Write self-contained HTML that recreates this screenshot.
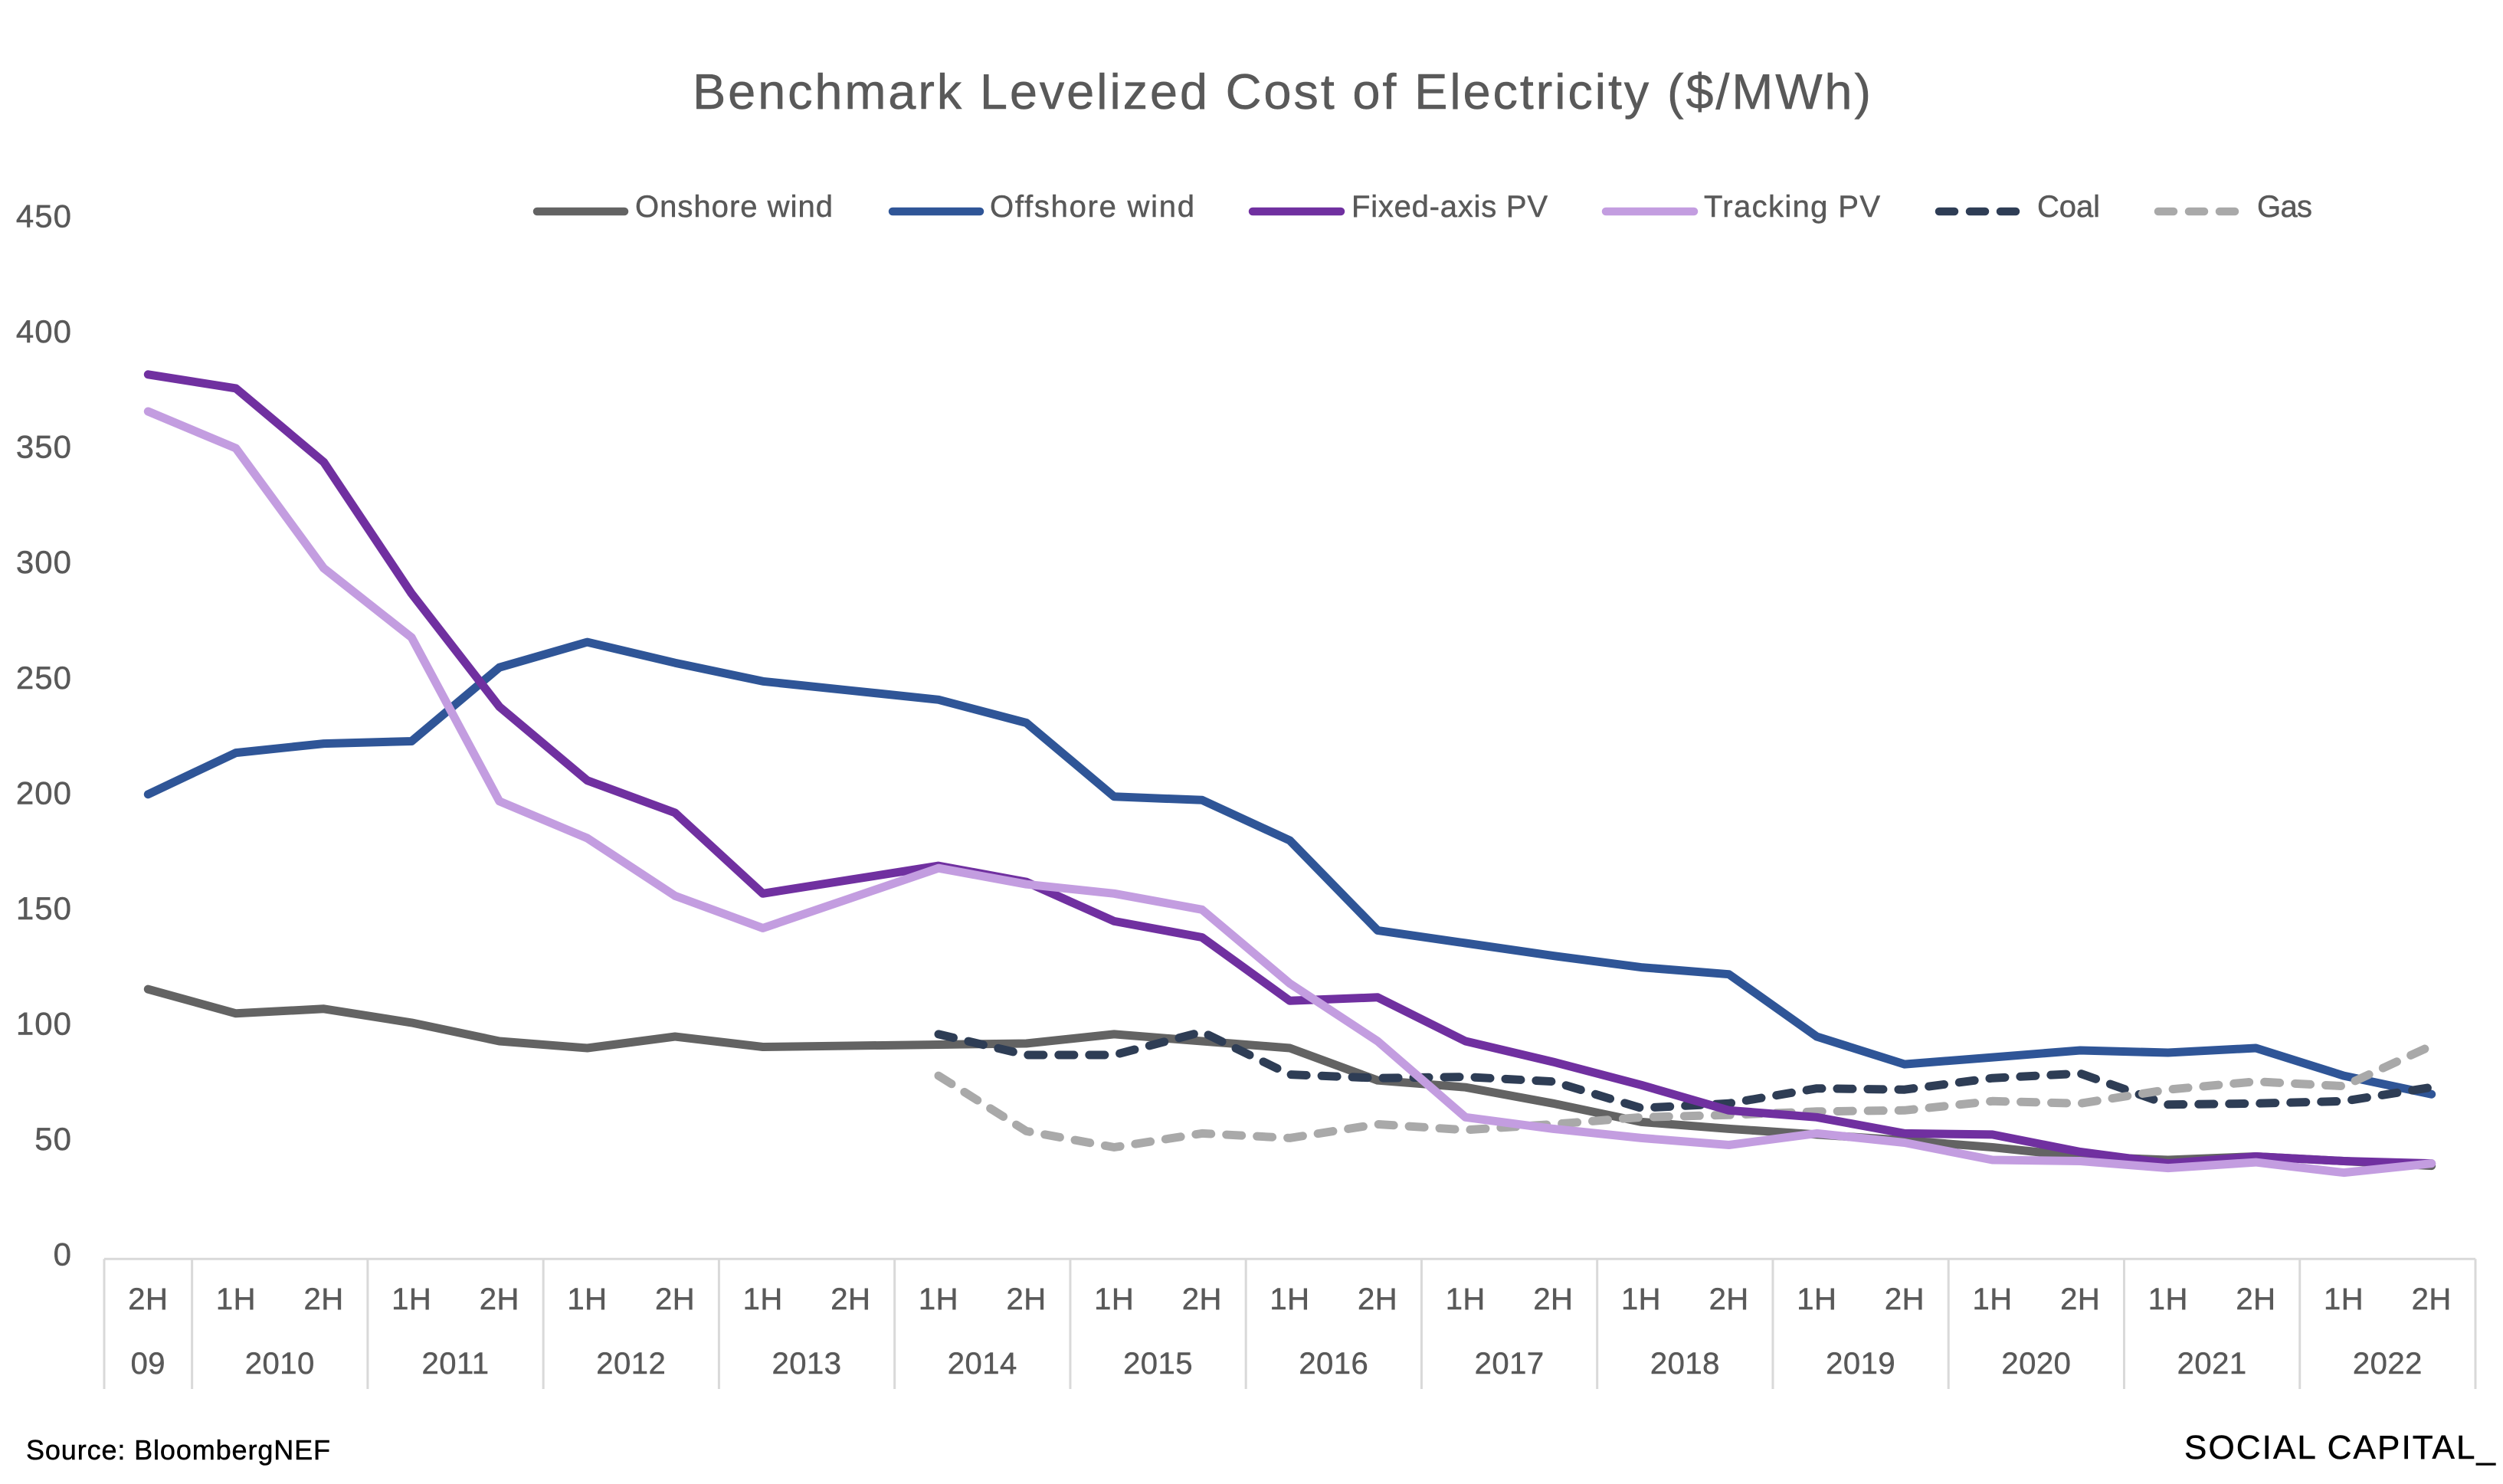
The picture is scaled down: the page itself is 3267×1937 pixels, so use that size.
<!DOCTYPE html>
<html lang="en">
<head>
<meta charset="utf-8">
<title>Benchmark Levelized Cost of Electricity</title>
<style>
  html, body { margin: 0; padding: 0; background: #fff; }
  svg { display: block; }
  text { font-family: "Liberation Sans", sans-serif; fill: #595959; stroke: #595959; stroke-width: 0.5px; }
  text.ink { fill: #000; stroke: #000; }
</style>
</head>
<body>
<svg id="chart" xmlns="http://www.w3.org/2000/svg" width="3267" height="1937" viewBox="0 0 3267 1937">
  <rect x="0" y="0" width="3267" height="1937" fill="#ffffff"/>
  <text x="904" y="142" font-size="65" textLength="1538" lengthAdjust="spacing">Benchmark Levelized Cost of Electricity ($/MWh)</text>

  <g>
    <g>
      <line x1="701" y1="276" x2="815" y2="276" stroke="#636363" stroke-width="10.5" stroke-linecap="round"/>
      <text x="829" y="283" font-size="40" textLength="258" lengthAdjust="spacing">Onshore wind</text>
    </g>
    <g>
      <line x1="1165" y1="276" x2="1279" y2="276" stroke="#2f5597" stroke-width="10.5" stroke-linecap="round"/>
      <text x="1292" y="283" font-size="40" textLength="267" lengthAdjust="spacing">Offshore wind</text>
    </g>
    <g>
      <line x1="1635" y1="276" x2="1750" y2="276" stroke="#7030a0" stroke-width="10.5" stroke-linecap="round"/>
      <text x="1764" y="283" font-size="40" textLength="256" lengthAdjust="spacing">Fixed-axis PV</text>
    </g>
    <g>
      <line x1="2096" y1="276" x2="2211" y2="276" stroke="#c39de0" stroke-width="10.5" stroke-linecap="round"/>
      <text x="2224" y="283" font-size="40" textLength="230" lengthAdjust="spacing">Tracking PV</text>
    </g>
    <g>
      <line x1="2531" y1="276" x2="2631" y2="276" stroke="#2e3d55" stroke-width="10.5" stroke-linecap="round" stroke-dasharray="20 20"/>
      <text x="2659" y="283" font-size="40" textLength="82" lengthAdjust="spacing">Coal</text>
    </g>
    <g>
      <line x1="2817" y1="276" x2="2917" y2="276" stroke="#a9a9a9" stroke-width="10.5" stroke-linecap="round" stroke-dasharray="20 20"/>
      <text x="2946" y="283" font-size="40" textLength="72" lengthAdjust="spacing">Gas</text>
    </g>
  </g>

  <g id="y-axis"></g>
  <g id="x-axis"></g>
  <g id="series"></g>

  <text class="ink" x="34" y="1905" font-size="36" textLength="397" lengthAdjust="spacing">Source: BloombergNEF</text>
  <text class="ink" x="2851" y="1904" font-size="44" textLength="406" lengthAdjust="spacing">SOCIAL CAPITAL_</text>
</svg>

<script>
const yTicks = [0, 50, 100, 150, 200, 250, 300, 350, 400, 450];
const halfLabels = ['2H','1H','2H','1H','2H','1H','2H','1H','2H','1H','2H','1H','2H','1H','2H','1H','2H','1H','2H','1H','2H','1H','2H','1H','2H','1H','2H'];
const yearLabels = ['09','2010','2011','2012','2013','2014','2015','2016','2017','2018','2019','2020','2021','2022'];
const yearHalfCounts = [1,2,2,2,2,2,2,2,2,2,2,2,2,2];

const onshoreWind = [115.5,105,107,101,93,90,95,90.5,91,91.5,92,96,93,90,76,73,66,58,55,52.5,50,47,43,41.5,43,41,39];
const offshoreWind = [200,218,222,223,255,266,257,249,245,241,231,199,197.5,180,141,135.5,130,125,122,95,83,86,89,88,90,78,70];
const fixedAxisPV = [382,376,344,287,238,206,192,157,163,169,162,145,138,110.5,112,93,84,74,63,60,53,52.5,45,40,43,41,40];
const trackingPV = [366,350,298,268,197,181,156,142,155,168,161,157,150,118,93,60,55,51,48,53,49,41.5,41,38,40.5,36,40];
const coal = [null,null,null,null,null,null,null,null,null,96,87,87,97,78.5,77,77.5,75.5,64,66,72.5,72,77,79,65.5,66,67,73];
const gas = [null,null,null,null,null,null,null,null,null,78,54,47,53,51,57,54.5,57,60,61,62.5,63,67,66,72,75.5,73.5,91];

const svgNS = 'http://www.w3.org/2000/svg';
const plotLeft = 136, plotRight = 3231, axisY = 1643.3, zeroY = 1639, pxPerUnit = 3.011;
const catW = (plotRight - plotLeft) / halfLabels.length;
function xScale(i) { return plotLeft + catW * (i + 0.5); }
function yScale(v) { return zeroY - v * pxPerUnit; }
function make(tag) { return document.createElementNS(svgNS, tag); }

const yAxis = document.getElementById('y-axis');
yTicks.forEach(function (t) {
  const el = make('text');
  
  
  el.setAttribute('x', 94);
  el.setAttribute('y', yScale(t) - 2 + 14.5);
  el.setAttribute('font-size', 42);
  el.setAttribute('text-anchor', 'end');
  el.setAttribute('letter-spacing', '1');
  el.textContent = t;
  yAxis.appendChild(el);
});

const xAxis = document.getElementById('x-axis');
const axisLine = make('line');


axisLine.setAttribute('x1', plotLeft);
axisLine.setAttribute('x2', plotRight);
axisLine.setAttribute('y1', axisY);
axisLine.setAttribute('y2', axisY);
axisLine.setAttribute('stroke', '#d9d9d9');
axisLine.setAttribute('stroke-width', 3);
xAxis.appendChild(axisLine);

halfLabels.forEach(function (lab, i) {
  const el = make('text');
  
  
  el.setAttribute('x', xScale(i));
  el.setAttribute('y', 1709);
  el.setAttribute('font-size', 40);
  el.setAttribute('text-anchor', 'middle');
  el.setAttribute('letter-spacing', '0.5');
  el.textContent = lab;
  xAxis.appendChild(el);
});

function addSeparator(px) {
  const sep = make('line');
  
  
  sep.setAttribute('x1', px);
  sep.setAttribute('x2', px);
  sep.setAttribute('y1', axisY);
  sep.setAttribute('y2', 1813);
  sep.setAttribute('stroke', '#d9d9d9');
  sep.setAttribute('stroke-width', 3);
  xAxis.appendChild(sep);
}

let cursor = 0;
addSeparator(plotLeft);
yearLabels.forEach(function (lab, k) {
  const n = yearHalfCounts[k];
  const el = make('text');
  
  
  el.setAttribute('x', plotLeft + catW * (cursor + n / 2));
  el.setAttribute('y', 1793);
  el.setAttribute('font-size', 40);
  el.setAttribute('text-anchor', 'middle');
  el.setAttribute('letter-spacing', '0.5');
  el.textContent = lab;
  xAxis.appendChild(el);
  cursor += n;
  addSeparator(plotLeft + catW * cursor);
});

const seriesGroup = document.getElementById('series');
function drawSeries(values, name, color, dash) {
  const pts = [];
  values.forEach(function (v, i) {
    if (v !== null) pts.push(xScale(i).toFixed(1) + ',' + yScale(v).toFixed(1));
  });
  const line = make('polyline');
  
  
  line.setAttribute('points', pts.join(' '));
  line.setAttribute('fill', 'none');
  line.setAttribute('stroke', color);
  line.setAttribute('stroke-width', 11);
  line.setAttribute('stroke-linecap', 'round');
  line.setAttribute('stroke-linejoin', 'round');
  if (dash) line.setAttribute('stroke-dasharray', '20 20');
  seriesGroup.appendChild(line);
}

drawSeries(onshoreWind, 'line-onshore-wind', '#636363', false);
drawSeries(offshoreWind, 'line-offshore-wind', '#2f5597', false);
drawSeries(coal, 'line-coal', '#2e3d55', true);
drawSeries(gas, 'line-gas', '#a9a9a9', true);
drawSeries(fixedAxisPV, 'line-fixed-axis-pv', '#7030a0', false);
drawSeries(trackingPV, 'line-tracking-pv', '#c39de0', false);
</script>
</body>
</html>
